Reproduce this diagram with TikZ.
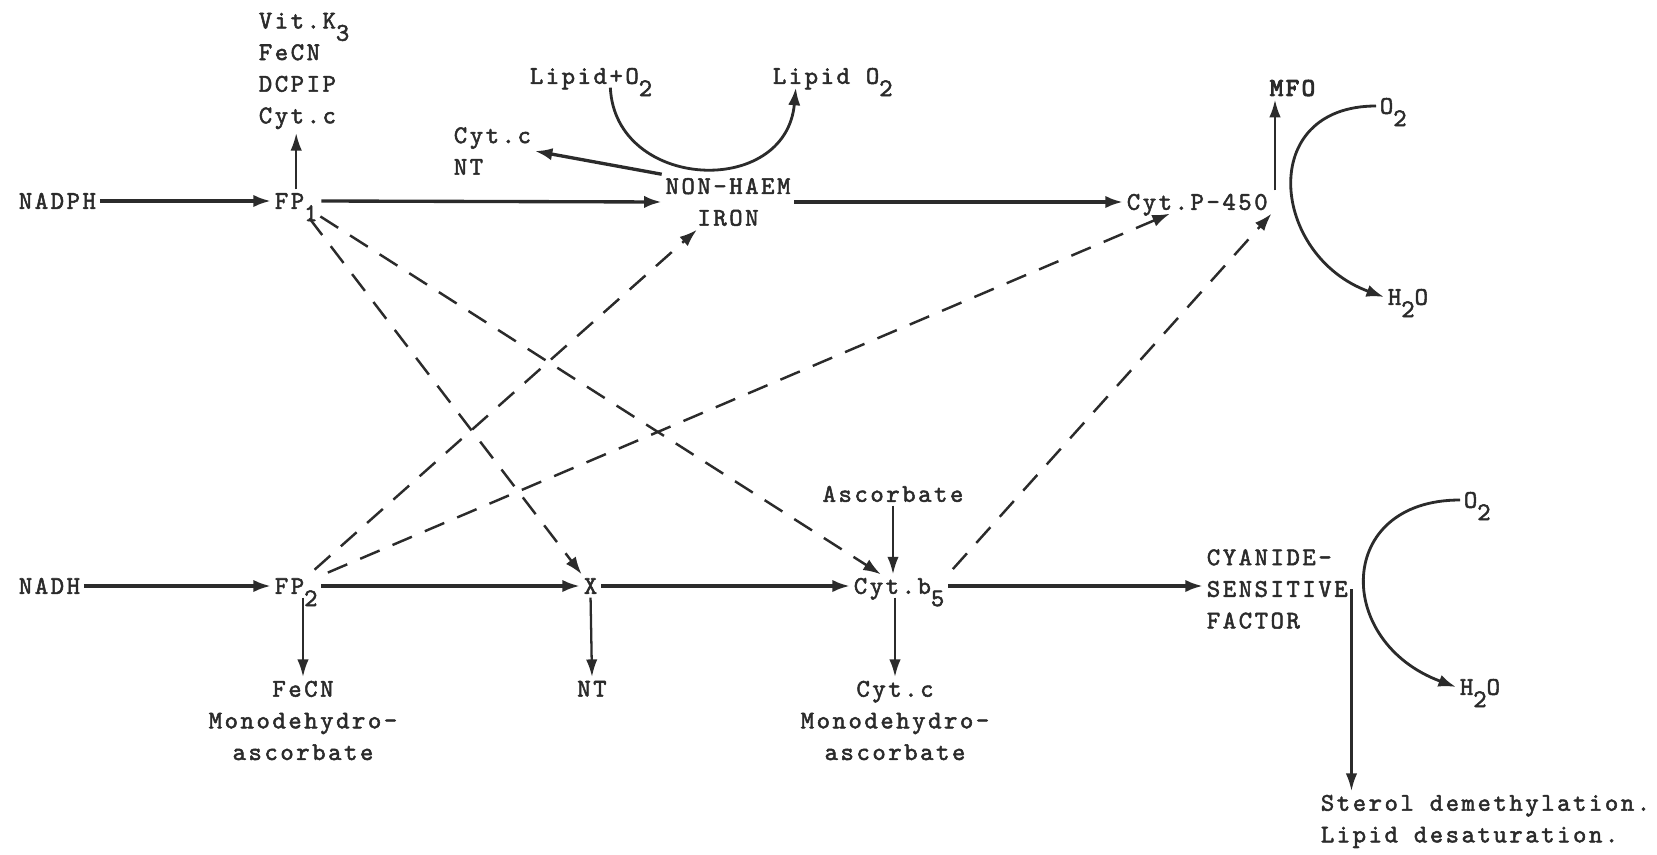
\documentclass[tikz,border=0pt]{standalone}
\usepackage{fontspec}
\newfontfamily\typew{lmmono10-regular}[Extension=.otf,LetterSpace=10,FakeBold=2]
\newfontfamily\typewb{lmmono10-regular}[Extension=.otf,LetterSpace=10,FakeBold=4]
\usetikzlibrary{arrows.meta,positioning}
\definecolor{ink}{HTML}{2B2B2B}
\newcommand\lo[1]{\smash{\raisebox{-7pt}{#1}}}
\tikzset{
  lbl/.style={font={\typew\fontsize{14.5}{18}\selectfont}, text=ink, inner sep=2pt},
  one/.style={lbl, text height=8.9pt, text depth=0pt},
  stack/.style={lbl, align=left},
  arr/.style={-{Latex[length=10pt,width=7pt]}, line width=1.9pt, draw=ink},
  thinarr/.style={-{Latex[length=10pt,width=6.5pt]}, line width=1.3pt, draw=ink},
  dasharr/.style={-{Latex[length=10pt,width=7pt]}, line width=1.4pt, draw=ink, dash pattern=on 12pt off 8pt, shorten <=4pt},
  curvearr/.style={-{Latex[length=10pt,width=7pt]}, line width=1.6pt, draw=ink}
}
\begin{document}
\begin{tikzpicture}[x=0.02cm,y=-0.02cm]
\useasboundingbox (0,0) rectangle (1657,855);
% upper chain
\node[one, anchor=west] (nadph) at (15,201) {NADPH};
\node[one, anchor=west] (fp1) at (271,201) {FP\lo{1}};
\node[stack, anchor=south west] (acc1) at (255,133) {Vit.K\lo{3}\\FeCN\\DCPIP\\Cyt.c};
\node[stack, align=center] (nhi) at (728,202) {NON-HAEM\\IRON};
\node[stack, anchor=west] (cytc1) at (450,151) {Cyt.c\\NT};
\node[one, anchor=west] (lipid) at (526,76) {Lipid+O\lo{2}};
\node[one, anchor=west] (lipido) at (769,76) {Lipid O\lo{2}};
\node[one, anchor=west] (p450) at (1123,202) {Cyt.P-450};
\node[one, anchor=west, font={\typewb\fontsize{14.5}{18}\selectfont}] (mfo) at (1266,88) {MFO};
\node[one, anchor=west] (o2a) at (1376,106) {O\lo{2}};
\node[one, anchor=west] (h2oa) at (1384,297) {H\lo{2}O};
% lower chain
\node[one, anchor=west] (nadh) at (15,586) {NADH};
\node[one, anchor=west] (fp2) at (271,586) {FP\lo{2}};
\node[one, anchor=west] (xc) at (580,586) {X};
\node[one, anchor=west] (b5) at (850,586) {Cyt.b\lo{5}};
\node[stack, anchor=west] (csf) at (1203,589) {CYANIDE-\\SENSITIVE\\FACTOR};
\node[one] (asc) at (893,494) {Ascorbate};
\node[stack, align=center, anchor=north] (fp2acc) at (303,677) {FeCN\\Monodehydro-\\ascorbate};
\node[one, anchor=north] (nt2) at (592,677) {NT};
\node[stack, align=center, anchor=north] (b5acc) at (895,677) {Cyt.c\\Monodehydro-\\ascorbate};
\node[one, anchor=west] (o2b) at (1460,500) {O\lo{2}};
\node[one, anchor=west] (h2ob) at (1456,687) {H\lo{2}O};
\node[stack, anchor=north west] (sterol) at (1317,791) {Sterol demethylation.\\Lipid desaturation.};

\draw[arr] (nadph.east) -- (fp1.west);
\draw[arr] (fp1.east) -- (nhi.west);
\draw[arr] (nhi.east) -- (p450.west);
\draw[thinarr] (fp1.north) -- (fp1.north |- acc1.south);
\draw[arr] (nhi.north west) -- (cytc1.east);
\draw[curvearr] ([xshift=11pt]lipid.south) .. controls +(5,103) and +(-10,111) .. ([xshift=-21pt]lipido.south);
\draw[thinarr] ([xshift=2pt]p450.north east) -- ([xshift=2pt]p450.north east |- mfo.south);
\draw[curvearr] (o2a.west) .. controls +(-120,0) and +(-113,-41) .. (h2oa.west);

\draw[arr] (nadh.east) -- (fp2.west);
\draw[arr] (fp2.east) -- (xc.west);
\draw[arr] (xc.east) -- (b5.west);
\draw[arr] (b5.east) -- (b5.east -| csf.west);
\draw[thinarr] (fp2acc.north |- fp2.south) -- (fp2acc.north);
\draw[thinarr] (xc.south) -- (nt2.north);
\draw[thinarr] (asc.south) -- (asc.south |- b5.north);
\draw[thinarr] (b5acc.north |- b5.south) -- (b5acc.north);
\draw[thinarr] (csf.east) -- (csf.east |- sterol.north);
\draw[curvearr] (o2b.west) .. controls +(-125,0) and +(-122,-45) .. (h2ob.west);

% dashed links
\draw[dasharr] (fp1) -- (xc);
\draw[dasharr] (fp1) -- (b5);
\draw[dasharr] (fp2) -- (nhi);
\draw[dasharr] (fp2) -- (p450);
\draw[dasharr] (b5.north east) -- (p450.south east);
\end{tikzpicture}
\end{document}
